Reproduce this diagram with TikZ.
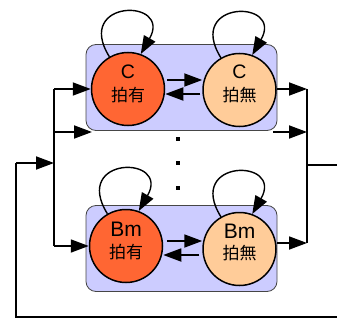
\documentclass[tikz,border=0pt]{standalone}
\usepackage{fontspec}
\setmainfont{Liberation Sans}
\newfontfamily\cjk{Noto Sans CJK JP}
\usetikzlibrary{arrows.meta,calc}
\definecolor{boxfill}{RGB}{204,204,255}
\definecolor{boxline}{RGB}{70,70,70}
\definecolor{hot}{RGB}{255,102,51}
\definecolor{pale}{RGB}{255,204,153}
\begin{document}
\begin{tikzpicture}[x=1pt,y=1pt,
  grp/.style={draw=boxline,line width=0.8pt,fill=boxfill,rounded corners=10pt,minimum width=191pt,minimum height=86pt,inner sep=0pt},
  st/.style={circle,draw=black,line width=1.5pt,minimum size=73pt,inner sep=0pt},
  lat/.style={inner sep=0pt,font=\fontsize{19.5}{20}\selectfont},
  kan/.style={inner sep=0pt,font=\cjk\fontsize{17}{18}\selectfont},
  wire/.style={line width=1.8pt},
  arr/.style={line width=1.8pt,-{Triangle[length=18pt,width=13pt]}},
  loop/.style={line width=1.4pt,-{Triangle[length=18pt,width=13pt]}},
  dot/.style={fill=black,minimum size=4pt,inner sep=0pt}]
\useasboundingbox (0,0) rectangle (337,322);
% groups
\node[grp] (G1) at (181.5,234.5) {};
\node[grp] (G2) at (181.5,73.5) {};
% states
\node[st,fill=hot]  (CL) at (128,233) {};
\node[st,fill=pale] (CR) at (239.5,232) {};
\node[st,fill=hot]  (BL) at (126,76) {};
\node[st,fill=pale] (BR) at (239.5,73) {};
% texts
\node[lat] (CLa) at ($(CL)+(0,17)$) {C};
\node[kan] (CLb) at ($(CL)+(0,-6)$) {拍有};
\node[lat] (CRa) at ($(CR)+(0,18)$) {C};
\node[kan] (CRb) at ($(CR)+(0,-5)$) {拍無};
\node[lat,font=\fontsize{21}{22}\selectfont] (BLa) at ($(BL)+(0,17)$) {Bm};
\node[kan] (BLb) at ($(BL)+(0,-6)$) {拍有};
\node[lat,font=\fontsize{21}{22}\selectfont] (BRa) at ($(BR)+(0,18)$) {Bm};
\node[kan] (BRb) at ($(BR)+(0,-4)$) {拍無};
% self loops
\draw[loop] (CL.120) .. controls +(-36,58) and +(32,56) .. (CL.70);
\draw[loop] (CR.120) .. controls +(-36,58) and +(32,56) .. (CR.70);
\draw[loop] (BL.120) .. controls +(-36,58) and +(32,56) .. (BL.70);
\draw[loop] (BR.120) .. controls +(-36,58) and +(32,56) .. (BR.70);
% transitions between states
\draw[arr] ([shift={(2,9)}]CL.east) -- ([shift={(0,10)}]CR.west);
\draw[arr] ([shift={(-2,-4)}]CR.west) -- ([shift={(0,-5)}]CL.east);
\draw[arr] ([shift={(3.5,5)}]BL.east) -- ([shift={(0,8)}]BR.west);
\draw[arr] ([shift={(-3,-6)}]BR.west) -- ([shift={(0,-9)}]BL.east);
% left bus
\coordinate (L1) at (54,233);
\coordinate (L2) at (54,190);
\coordinate (L3) at (54,76);
\coordinate (Lin) at (54,159);
\coordinate (A2) at (92,190);
\draw[wire] (L1) -- (L3);
\draw[arr] (L1) -- (CL.west);
\draw[arr] (L2) -- (A2);
\draw[arr] (L3) -- (BL.west);
% right bus
\coordinate (R1) at (307,233);
\coordinate (R2) at (307,190);
\coordinate (R3) at (307,79);
\coordinate (S2) at (273,190);
\coordinate (Rout) at (307,157);
\coordinate (E1) at (337,157);
\draw[wire] (R1) -- (R3);
\draw[arr] ([yshift=1]CR.east) -- (R1);
\draw[arr] (S2) -- (R2);
\draw[arr] ([yshift=6]BR.east) -- (R3);
\draw[wire] (Rout) -- (E1);
% feedback
\coordinate (F0) at (337,5);
\coordinate (F1) at (16,5);
\coordinate (F2) at (16,159);
\draw[wire] (F0) -- (F1) -- (F2);
\draw[arr] (F2) -- (Lin);
% dots
\node[dot] (d1) at (178,183) {};
\node[dot] (d2) at (178,159) {};
\node[dot] (d3) at (178,134) {};
\end{tikzpicture}
\end{document}
